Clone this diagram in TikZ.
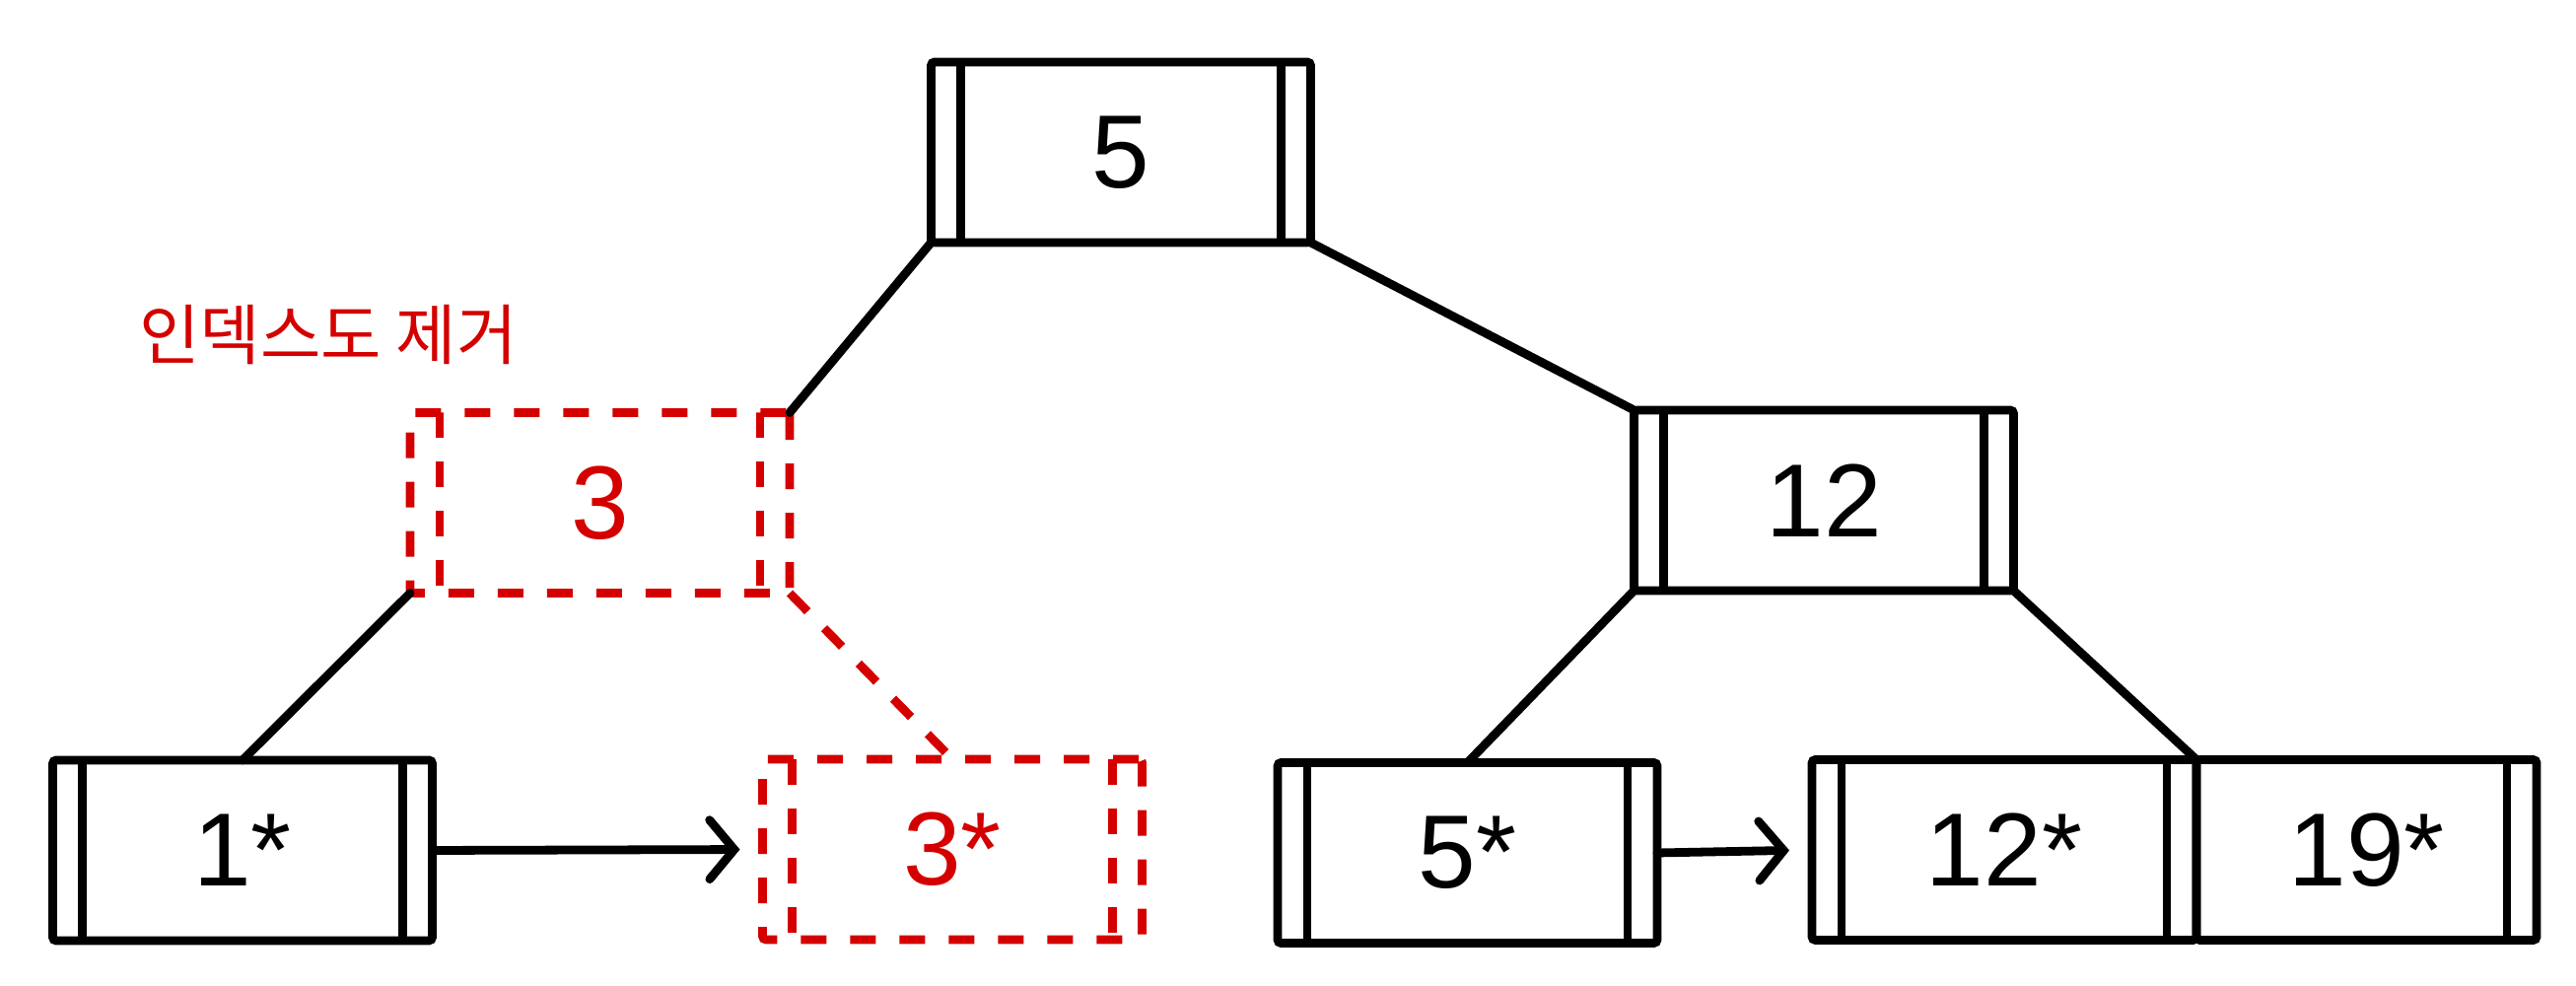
\documentclass[tikz,border=0pt]{standalone}
\usepackage{fontspec}
\setmainfont{Liberation Sans}
\newfontfamily\kofont{Noto Sans CJK KR}
\usepackage{tikz}
\usetikzlibrary{arrows.meta,positioning}
\definecolor{delred}{HTML}{D40000}

\begin{document}
\begin{tikzpicture}[
    font=\fontsize{30}{36}\selectfont,
    line width=2.5pt,
    barline/.style={line width=2.5pt},
    keybox/.style={draw, rounded corners=1pt, outer sep=0pt, minimum width=3.85cm, minimum height=1.83cm,
      path picture={\draw[barline] ([xshift=3mm]path picture bounding box.north west) -- ([xshift=3mm]path picture bounding box.south west)
        ([xshift=-3mm]path picture bounding box.north east) -- ([xshift=-3mm]path picture bounding box.south east);}},
    tailbox/.style={keybox, minimum width=3.45cm,
      path picture={\draw[barline] ([xshift=-3mm]path picture bounding box.north east) -- ([xshift=-3mm]path picture bounding box.south east);}},
    delbox/.style={keybox, draw=delred, text=delred, dash pattern=on 2.6mm off 2.4mm,
      barline/.style={line width=2.5pt, delred, dash pattern=on 2.6mm off 2.4mm}},
    ptr/.style={-{Straight Barb[length=2.5mm, width=6mm, line cap=round]}, line cap=round, shorten >=2.3mm}
]
\useasboundingbox (0,0) rectangle (26.13,10);

\node[keybox] (root) at (11.37,8.455) {5};
\node[delbox] (del3) at (6.085,4.9) {3};
\node[keybox] (inner12) at (18.5,4.925) {12};
\node[keybox] (leaf1) at (2.46,1.375) {1*};
\node[delbox] (del3s) at (9.66,1.385) {3*};
\node[keybox] (leaf5) at (14.885,1.35) {5*};
\node[keybox, minimum width=3.9cm] (leaf12) at (20.33,1.38) {12*};
\node[tailbox, right=0mm of leaf12] (leaf19) {19*};
\node[text=delred, font=\kofont\fontsize{19}{24}\selectfont] (dellabel) at (3.33,6.6) {인덱스도 제거};

\foreach \a/\b in {root.south west/del3.north east, root.south east/inner12.north west, del3.south west/leaf1.north, inner12.south west/leaf5.north, inner12.south east/leaf12.north east}
  \draw[line cap=round] (\a) -- (\b);
\draw[delred, dash pattern=on 2.6mm off 2.4mm] (del3.south east) -- (del3s.north);

\draw[ptr] (leaf1.east) -- (del3s.west);
\draw[ptr] (leaf5.east) -- (leaf12.west);
\end{tikzpicture}
\end{document}
